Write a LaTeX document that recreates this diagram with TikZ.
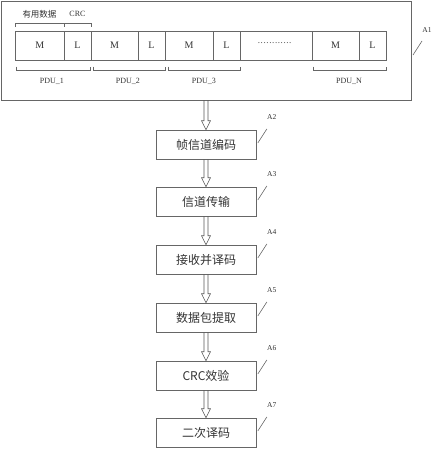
\documentclass[tikz,border=0pt]{standalone}
\usepackage{fontspec}
\setmainfont{Liberation Serif}
\newfontfamily\cjk{Noto Sans CJK SC}
\begin{document}
\begin{tikzpicture}[x=1pt,y=-1pt,
  ln/.style={draw=black!60, line width=0.6pt},
  cell/.style={ln, minimum height=29pt, inner sep=0pt, font=\fontsize{10}{10}\selectfont, text=black!80},
  stepbox/.style={ln, minimum width=100pt, minimum height=29pt, inner sep=0pt, font=\cjk\fontsize{12}{12}\selectfont, text=black!80},
  small/.style={font=\fontsize{8}{8}\selectfont, text=black!80, inner sep=0pt},
  tag/.style={font=\fontsize{7.5}{7.5}\selectfont, text=black!80, inner sep=0pt},
  arr/.style={draw=black!65, line width=0.6pt},
]
\useasboundingbox (0,0) rectangle (432,450);
% outer box
\node[ln, minimum width=410pt, minimum height=99pt, inner sep=0pt] (outer) at (206,50.5) {};
% cells
\node[cell, minimum width=48.5pt] (m1) at (39.75,45.5) {M};
\node[cell, minimum width=27pt] (l1) at (77.5,45.5) {L};
\node[cell, minimum width=47pt] (m2) at (114.5,45.5) {M};
\node[cell, minimum width=27pt] (l2) at (151.5,45.5) {L};
\node[cell, minimum width=48pt] (m3) at (189,45.5) {M};
\node[cell, minimum width=27pt] (l3) at (226.5,45.5) {L};
\node[cell, minimum width=72pt] (dots) at (276,45.5) {};
\node[inner sep=0pt, text=black!75, font=\fontsize{9}{9}\selectfont] (dotrow) at (275,43.5) {\foreach \i in {1,...,12}{.\kern0.6pt}};
\node[cell, minimum width=47pt] (mn) at (335.5,45.5) {M};
\node[cell, minimum width=27pt] (ln) at (372.5,45.5) {L};
% top brackets
\draw[ln] (15.5,27) -- (15.5,23) -- (91,23) -- (91,27);
\draw[ln] (64,23) -- (64,27);
\node[small, font=\cjk\fontsize{8.5}{8.5}\selectfont] (useful) at (39.5,14) {有用数据};
\node[small] (crc) at (77.5,14) {CRC};
% bottom brackets
\draw[ln] (16,66.5) -- (16,70) -- (90,70) -- (90,66.5);
\draw[ln] (93,66.5) -- (93,70) -- (165,70) -- (165,66.5);
\draw[ln] (168,66.5) -- (168,70) -- (240,70) -- (240,66.5);
\draw[ln] (313,66.5) -- (313,70) -- (386,70) -- (386,66.5);
\node[small] (p1) at (52,81) {PDU\_1};
\node[small] (p2) at (128,81) {PDU\_2};
\node[small] (p3) at (204,81) {PDU\_3};
\node[small] (pn) at (349,81) {PDU\_N};
% A1 tag
\coordinate (a1s) at (413,55);
\coordinate (a1e) at (422,41);
\draw[ln] (a1s) -- (a1e);
\node[tag] (a1) at (427,30) {A1};
% flow boxes
\node[stepbox] (b2) at (206,144.5) {帧信道编码};
\node[stepbox] (b3) at (206,201.5) {信道传输};
\node[stepbox] (b4) at (206,259.5) {接收并译码};
\node[stepbox] (b5) at (206,317.5) {数据包提取};
\node[stepbox] (b6) at (206,375.5) {CRC效验};
\node[stepbox] (b7) at (206,432.5) {二次译码};
% tags
\foreach \b/\t in {b2/A2,b3/A3,b4/A4,b5/A5,b6/A6,b7/A7}{
  \draw[ln] ([xshift=1.5pt,yshift=1.5pt]\b.east) -- ([xshift=10.5pt,yshift=15.5pt]\b.east);
  \node[tag] at ([xshift=15.5pt,yshift=27.5pt]\b.east) {\t};
}
% hollow double arrows
\foreach \s/\e in {outer/b2,b2/b3,b3/b4,b4/b5,b5/b6,b6/b7}{
  \draw[arr] ([xshift=-2pt]\s.south) -- ([xshift=-2pt,yshift=9pt]\e.north)
    -- ([xshift=-4.5pt,yshift=9pt]\e.north) -- (\e.north)
    -- ([xshift=4.5pt,yshift=9pt]\e.north) -- ([xshift=2pt,yshift=9pt]\e.north)
    -- ([xshift=2pt]\s.south);
}
\end{tikzpicture}
\end{document}
